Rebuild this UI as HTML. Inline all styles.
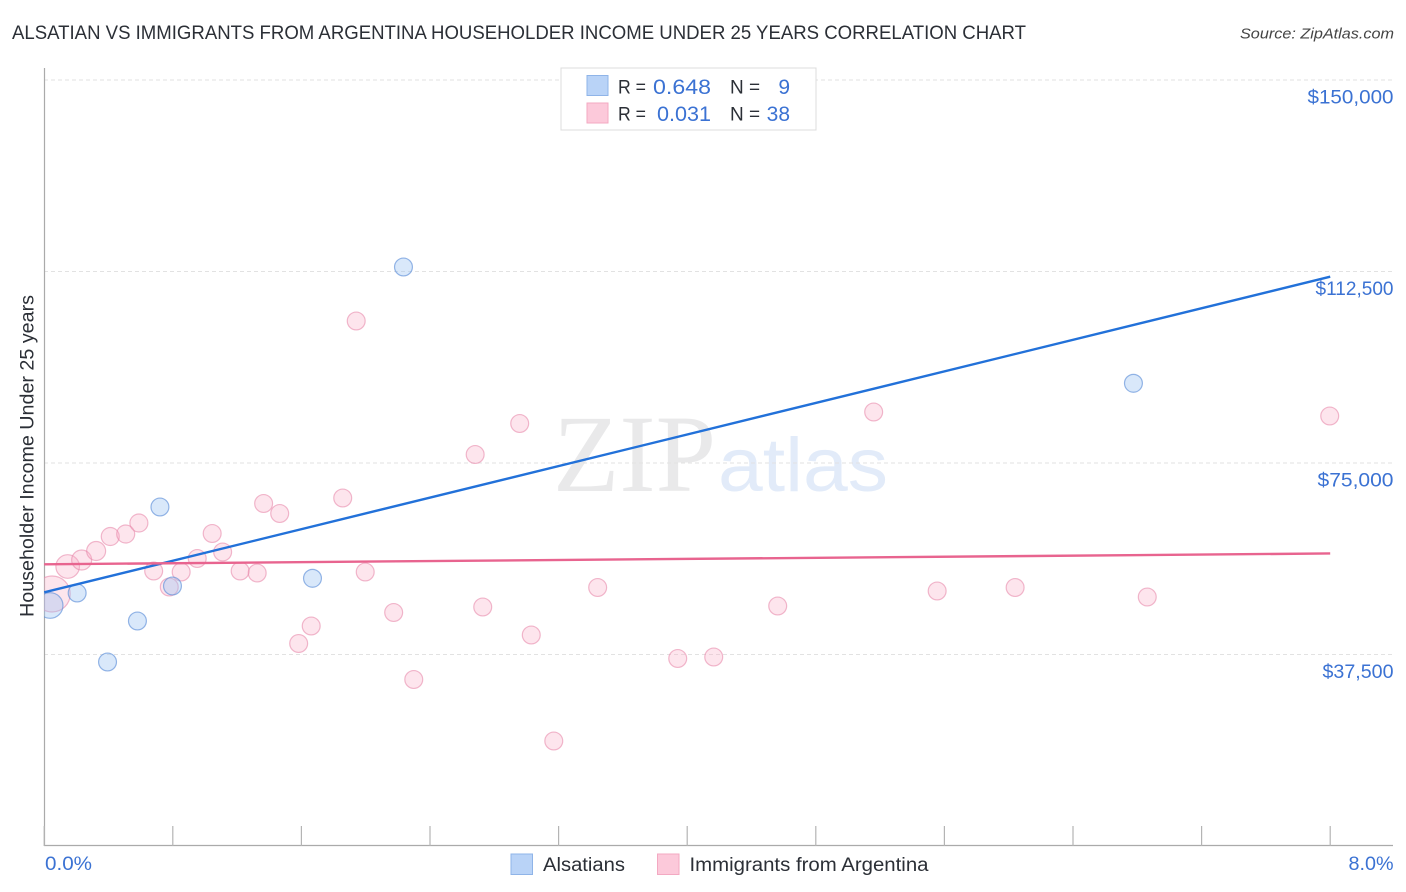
<!DOCTYPE html>
<html>
<head>
<meta charset="utf-8">
<title>Alsatian vs Immigrants from Argentina Householder Income Under 25 Years Correlation Chart</title>
<style>
html,body{margin:0;padding:0;background:#fff;}
svg{display:block;font-family:"Liberation Sans",sans-serif;}
</style>
</head>
<body>
<svg id="chart" xmlns="http://www.w3.org/2000/svg" width="1406" height="892" viewBox="0 0 1406 892">
  <defs>
    <clipPath id="plot-clip"><rect x="44" y="60" width="1350" height="786"/></clipPath>
  </defs>
  <text x="12" y="39" font-size="19" fill="#2b2f36" textLength="1014" lengthAdjust="spacingAndGlyphs">ALSATIAN VS IMMIGRANTS FROM ARGENTINA HOUSEHOLDER INCOME UNDER 25 YEARS CORRELATION CHART</text>
  <text x="1394" y="38.5" font-size="15" font-style="italic" fill="#444" text-anchor="end" textLength="154" lengthAdjust="spacingAndGlyphs">Source: ZipAtlas.com</text>

  <g>
    <text x="553" y="491" font-family="'Liberation Serif',serif" font-size="110" fill="#e9e9ea" textLength="163" lengthAdjust="spacingAndGlyphs">ZIP</text>
    <text x="718" y="491" font-size="76" fill="#e2ebf9" textLength="170" lengthAdjust="spacingAndGlyphs">atlas</text>
  </g>

  <g id="grid"></g>
  <g id="axes"></g>
  <g id="marks" clip-path="url(#plot-clip)"></g>
  <g id="labels"></g>

  <text transform="translate(33.5,456) rotate(-90)" font-size="19" fill="#2b2f36" text-anchor="middle" textLength="322" lengthAdjust="spacingAndGlyphs">Householder Income Under 25 years</text>

  <g>
    <rect x="561" y="68" width="255" height="62" fill="#fff" stroke="#dcdcdc" stroke-width="1"/>
    <rect x="587" y="75.5" width="21" height="20" fill="#b9d3f7" stroke="#8fb4e8" stroke-width="1"/>
    <rect x="587" y="103" width="21" height="20" fill="#fcc9da" stroke="#f3a9c2" stroke-width="1"/>
    <text x="618" y="93.5" font-size="19" fill="#2b2f36" textLength="28" lengthAdjust="spacingAndGlyphs">R =</text>
    <text x="653" y="94" font-size="21" fill="#3b72d3" textLength="58" lengthAdjust="spacingAndGlyphs">0.648</text>
    <text x="730" y="93.5" font-size="19" fill="#2b2f36">N =</text>
    <text x="790" y="94" font-size="21" fill="#3b72d3" text-anchor="end">9</text>
    <text x="618" y="120.5" font-size="19" fill="#2b2f36" textLength="28" lengthAdjust="spacingAndGlyphs">R =</text>
    <text x="657" y="121" font-size="21" fill="#3b72d3" textLength="54" lengthAdjust="spacingAndGlyphs">0.031</text>
    <text x="730" y="120.5" font-size="19" fill="#2b2f36">N =</text>
    <text x="790" y="121" font-size="21" fill="#3b72d3" text-anchor="end">38</text>
  </g>

  <g>
    <rect x="511" y="854" width="21.5" height="20.5" fill="#b9d3f7" stroke="#8fb4e8" stroke-width="1"/>
    <text x="543" y="871" font-size="19" fill="#2b2f36" textLength="82" lengthAdjust="spacingAndGlyphs">Alsatians</text>
    <rect x="657.5" y="854" width="21.5" height="20.5" fill="#fcc9da" stroke="#f3a9c2" stroke-width="1"/>
    <text x="689.5" y="871" font-size="19" fill="#2b2f36" textLength="239" lengthAdjust="spacingAndGlyphs">Immigrants from Argentina</text>
  </g>
</svg>
<script>
const yTickValues = [150000, 112500, 75000, 37500];
const yTickLabels = ["$150,000", "$112,500", "$75,000", "$37,500"];
const xTickValues = [0, 0.8, 1.6, 2.4, 3.2, 4.0, 4.8, 5.6, 6.4, 7.2, 8.0];
const xEndLabels = ["0.0%", "8.0%"];

const alsatianX = [0.037, 0.205, 0.394, 0.580, 0.720, 0.798, 1.669, 2.235, 6.776];
const alsatianY = [47095, 49542, 36031, 44060, 66383, 50913, 52421, 113380, 90606];
const alsatianWeight = [164, 80, 80, 80, 80, 80, 80, 80, 80];

const argentinaX = [0.050, 0.146, 0.233, 0.323, 0.411, 0.507, 0.589, 0.681, 0.778, 0.852, 0.952, 1.045, 1.110, 1.219, 1.325, 1.365, 1.465, 1.583, 1.661, 1.857, 1.941, 1.997, 2.174, 2.299, 2.681, 2.728, 2.958, 3.030, 3.170, 3.443, 3.941, 4.165, 4.563, 5.160, 5.555, 6.040, 6.862, 7.997];
const argentinaY = [49347, 54732, 56005, 57767, 60606, 61096, 63250, 53851, 50717, 53655, 56298, 61194, 57571, 53851, 53459, 67068, 65110, 39654, 43080, 68145, 102806, 53655, 45724, 32604, 76664, 46801, 82734, 41318, 20561, 50620, 36716, 37010, 46997, 84986, 49934, 50620, 48759, 84203];
const argentinaWeight = [324, 139, 100, 90, 81, 81, 81, 80, 80, 80, 80, 80, 80, 80, 80, 80, 80, 80, 80, 80, 80, 80, 80, 80, 80, 80, 80, 80, 80, 80, 80, 80, 80, 80, 80, 80, 80, 80];

const trendX = [0, 8];
const alsatianTrendY = [49680, 111480];
const argentinaTrendY = [55160, 57280];

const NS = "http://www.w3.org/2000/svg";
const xScale = v => 44.2 + v * 160.75;
const yScale = v => 846 - v / 195.82;
const radius = w => Math.sqrt(w);
const labelWidth = s => s.length === 8 ? (s.indexOf("112") >= 0 ? 78 : 86) : (s.indexOf("37") >= 0 ? 71 : 76);

function mk(tag, attrs, parent) {
  const el = document.createElementNS(NS, tag);
  for (const k in attrs) el.setAttribute(k, attrs[k]);
  parent.appendChild(el);
  return el;
}

const grid = document.getElementById("grid");
const axes = document.getElementById("axes");
const marks = document.getElementById("marks");
const labels = document.getElementById("labels");

yTickValues.forEach((v, i) => {
  const line = mk("line", {x1: 44, x2: 1393, y1: yScale(v), y2: yScale(v), stroke: "#e2e2e2", "stroke-width": 1, "stroke-dasharray": "4 3"}, grid);
  
  
  const t = mk("text", {x: 1393.5, y: yScale(v) + 23.5, "font-size": 19, fill: "#3b72d3", "text-anchor": "end", textLength: labelWidth(yTickLabels[i]), lengthAdjust: "spacingAndGlyphs"}, labels);
  
  
  t.textContent = yTickLabels[i];
});

const yAxis = mk("line", {x1: 44.5, x2: 44.5, y1: 68, y2: 846, stroke: "#aaaaaa", "stroke-width": 1.2}, axes);


const xAxis = mk("line", {x1: 44, x2: 1393, y1: 845.5, y2: 845.5, stroke: "#aaaaaa", "stroke-width": 1.2}, axes);



xTickValues.forEach(v => {
  const tick = mk("line", {x1: xScale(v), x2: xScale(v), y1: 826, y2: 846, stroke: "#b4b4b4", "stroke-width": 1.2}, axes);
  
  
});

const xStart = mk("text", {x: 45, y: 870, "font-size": 19, fill: "#3b72d3", textLength: 47, lengthAdjust: "spacingAndGlyphs"}, labels);


xStart.textContent = xEndLabels[0];
const xEnd = mk("text", {x: 1393.5, y: 870, "font-size": 19, fill: "#3b72d3", "text-anchor": "end", textLength: 45, lengthAdjust: "spacingAndGlyphs"}, labels);


xEnd.textContent = xEndLabels[1];

argentinaX.forEach((x, i) => {
  const c = mk("circle", {cx: xScale(x), cy: yScale(argentinaY[i]), r: radius(argentinaWeight[i]), fill: "#f9a8c4", "fill-opacity": 0.3, stroke: "#e88aab", "stroke-opacity": 0.6, "stroke-width": 1.2}, marks);
  
  
});

alsatianX.forEach((x, i) => {
  const c = mk("circle", {cx: xScale(x), cy: yScale(alsatianY[i]), r: radius(alsatianWeight[i]), fill: "#9cc2f3", "fill-opacity": 0.38, stroke: "#5d8fd8", "stroke-opacity": 0.65, "stroke-width": 1.2}, marks);
  
  
});

const blueTrend = mk("line", {x1: xScale(trendX[0]), x2: xScale(trendX[1]), y1: yScale(alsatianTrendY[0]), y2: yScale(alsatianTrendY[1]), stroke: "#2271d9", "stroke-width": 2.4}, marks);



const pinkTrend = mk("line", {x1: xScale(trendX[0]), x2: xScale(trendX[1]), y1: yScale(argentinaTrendY[0]), y2: yScale(argentinaTrendY[1]), stroke: "#e8648f", "stroke-width": 2.4}, marks);


</script>
</body>
</html>
